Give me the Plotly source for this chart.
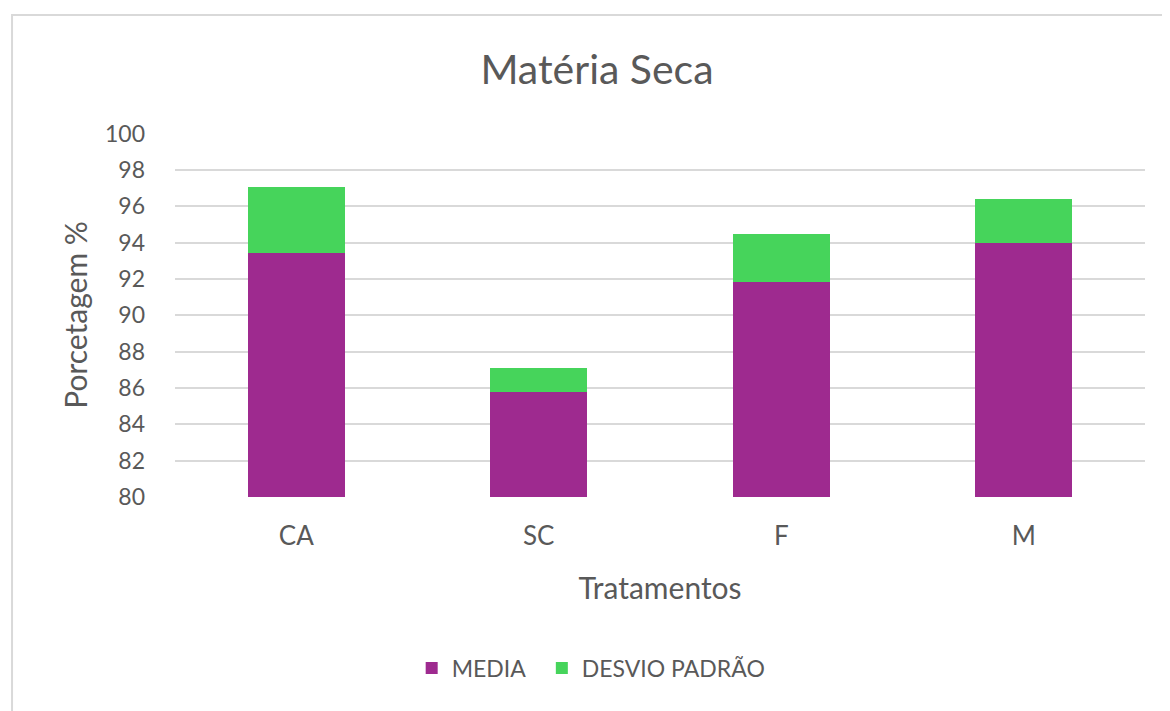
import plotly.graph_objects as go

# dados
tratamentos = ["CA", "SC", "F", "M"]
media = [93.45, 85.8, 91.85, 94.0]
desvio = [3.6, 1.3, 2.6, 2.4]

cor_media = "#9E2A8F"
cor_desvio = "#46D45B"
cinza = "#595959"
fonte = "Lato"

fig = go.Figure()
# espaços no fim do nome só para afastar as entradas da legenda
fig.add_trace(go.Bar(x=tratamentos, y=media, name="MEDIA\u00a0\u00a0",
                     marker=dict(color=cor_media, line=dict(width=0))))
fig.add_trace(go.Bar(x=tratamentos, y=desvio, name="DESVIO PADRÃO",
                     marker=dict(color=cor_desvio, line=dict(width=0))))

# a página tem margem de 8px no body
fig.update_layout(
    barmode="stack",
    bargap=0.6,
    width=1162, height=703,
    margin=dict(l=167, r=25, t=125, b=214),
    plot_bgcolor="white",
    paper_bgcolor="white",
    font=dict(family=fonte, color=cinza, size=22),
    title=dict(text="Matéria Seca", x=589 / 1162, xanchor="center",
               y=1 - 62 / 703, yanchor="middle",
               font=dict(size=41, color=cinza)),
    legend=dict(orientation="h", x=0.244, xanchor="left", y=-0.47,
                yanchor="middle", font=dict(size=23, color=cinza),
                traceorder="normal"),
    showlegend=True,
)

fig.update_yaxes(
    range=[80, 100.03], dtick=2, showgrid=True, gridcolor="#d9d9d9",
    gridwidth=1.5, zeroline=False, showline=False, ticks="",
    ticklabelstandoff=29, tickfont=dict(size=23),
    title=dict(text="Porcetagem %", font=dict(size=30, color=cinza), standoff=8),
)
fig.update_xaxes(
    showline=False, ticks="", showgrid=False,
    ticklabelstandoff=21, tickfont=dict(size=26),
    title=dict(text="Tratamentos", font=dict(size=30, color=cinza), standoff=27),
)

# borda da área do gráfico
fig.add_shape(type="rect", xref="paper", yref="paper",
              x0=-0.168, x1=1.2, y0=-1.0, y1=1.324,
              line=dict(color="#d9d9d9", width=2), layer="below")

fig.write_html("out.html")
